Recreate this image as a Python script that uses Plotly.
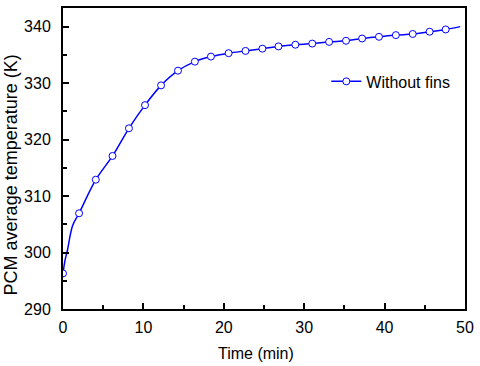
import plotly.graph_objects as go

# marker readings (time in min, PCM average temperature in K)
time_min = [0, 2.0, 4.08, 6.16, 8.2, 10.2, 12.2, 14.3, 16.4, 18.4, 20.6, 22.7,
            24.8, 26.8, 28.9, 31.0, 33.1, 35.2, 37.2, 39.3, 41.4, 43.5, 45.6, 47.6]
temp_k = [296.3, 306.95, 312.9, 317.1, 322.0, 326.1, 329.6, 332.2, 333.8, 334.7,
          335.3, 335.7, 336.1, 336.5, 336.8, 337.0, 337.3, 337.5, 337.9, 338.2,
          338.5, 338.7, 339.1, 339.5]

# extra points (steep start and tail past the last marker)
curve_time = [0, 0.25, 0.55, 1.2] + time_min[1:] + [49.4]
curve_temp = [296.3, 298.6, 300.4, 304.8] + temp_k[1:] + [340.0]

BLUE = "#0000FF"
FONT = "Liberation Sans, Arial, sans-serif"

fig = go.Figure()
fig.add_trace(go.Scatter(
    x=curve_time, y=curve_temp, mode="lines",
    line=dict(color=BLUE, width=1.5, shape="spline"),
    showlegend=False, hoverinfo="skip",
))
fig.add_trace(go.Scatter(
    x=time_min, y=temp_k, mode="markers",
    marker=dict(symbol="circle", size=7, color="white", line=dict(color=BLUE, width=1)),
    showlegend=False,
))
# legend entry only
fig.add_trace(go.Scatter(
    x=[None], y=[None], mode="lines+markers", name="Without fins",
    line=dict(color=BLUE, width=1.5),
    marker=dict(symbol="circle", size=7, color="white", line=dict(color=BLUE, width=1)),
))

axis_common = dict(
    showline=True, linecolor="black", linewidth=2, mirror=True,
    ticks="inside", ticklen=6, tickwidth=1.5, tickcolor="black",
    showgrid=False, zeroline=False,
    tickfont=dict(family=FONT, size=16, color="black"),
    minor=dict(ticks="inside", ticklen=4, tickwidth=1.5, tickcolor="black", dtick=5),
)

fig.update_layout(
    width=480, height=366,
    margin=dict(l=63, r=10, t=6, b=57),
    plot_bgcolor="white", paper_bgcolor="white",
    font=dict(family=FONT, size=15, color="black"),
    xaxis=dict(range=[0, 50], dtick=10, tick0=0, ticklabelstandoff=3, **axis_common),
    yaxis=dict(range=[290, 343.3], dtick=10, tick0=290, ticklabelstandoff=7, **axis_common),
    legend=dict(x=0.655, y=0.756, xanchor="left", yanchor="middle",
                bgcolor="rgba(0,0,0,0)", font=dict(family=FONT, size=16, color="black")),
    annotations=[
        dict(text="Time (min)", xref="paper", yref="paper", x=0.48, y=-0.148,
             showarrow=False, xanchor="center", yanchor="middle",
             font=dict(family=FONT, size=16, color="black")),
        dict(text="PCM average temperature (K)", xref="paper", yref="paper",
             x=-0.127, y=0.447, textangle=-90, showarrow=False,
             xanchor="center", yanchor="middle",
             font=dict(family=FONT, size=18, color="black")),
    ],
)

fig.write_html("out.html", config={"displayModeBar": False},
               post_script="document.body.style.margin='0';")
